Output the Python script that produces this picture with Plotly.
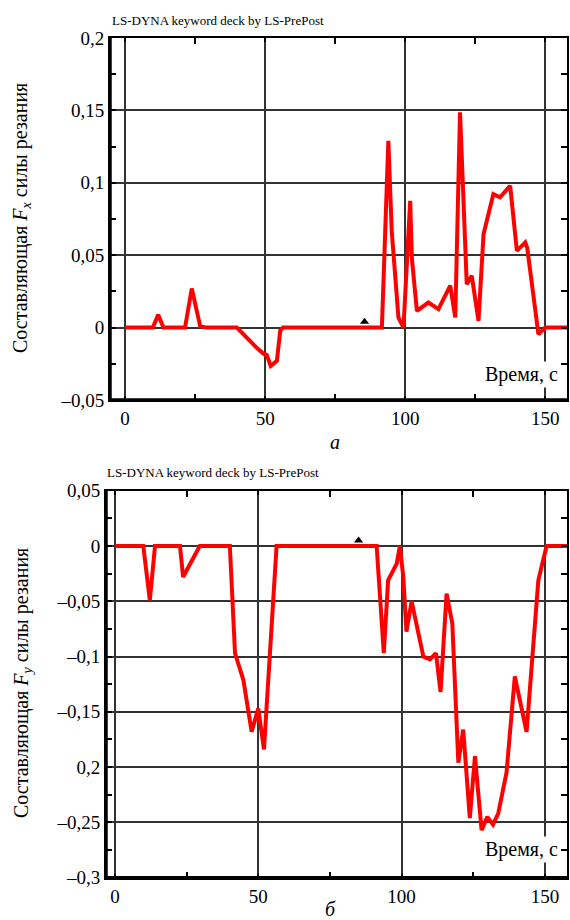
import plotly.graph_objects as go

# ---- data ----
t_fx = [0, 9.9, 11.8, 13.7, 21.4, 23.8, 26.8, 29, 39.9, 43.4, 47, 49.4, 50.6, 52, 54.2, 55.4, 56.4,
        91.7, 92.9, 94, 95.2, 97.6, 99.4, 101.8, 102.4, 104.2, 108.3, 111.9, 116.1, 117.9, 119.6,
        122, 123.8, 126.2, 128, 131.5, 133.9, 137.5, 139.9, 142.9, 143.6, 147.6, 150, 158.5]
fx = [0, 0, 0.0088, 0, 0, 0.027, 0.001, 0, 0, -0.007, -0.014, -0.018, -0.019, -0.0265, -0.023, -0.002, 0,
      0, 0.0715, 0.129, 0.067, 0.007, 0, 0.0876, 0.048, 0.0115, 0.0173, 0.0127, 0.029, 0.007, 0.1487,
      0.030, 0.0357, 0.0046, 0.0646, 0.0922, 0.09, 0.098, 0.053, 0.0588, 0.055, -0.0046, 0, 0]

t_fy = [0, 9.9, 12.2, 14, 22.7, 23.8, 29.6, 40.1, 41.9, 44.8, 47.7, 50, 52, 54.1, 56.4,
        91.3, 93.8, 95.3, 98.3, 99.4, 100.6, 101.7, 103.5, 107.6, 109.9, 112, 113.6, 115.7, 117.7,
        119.8, 121.5, 123.8, 125.6, 127.9, 129.9, 131.9, 133.7, 136.6, 139.5, 143.6, 146.5, 147.7,
        149.4, 150.6, 158.5]
fy = [0, 0, -0.049, 0, 0, -0.028, 0, 0, -0.097, -0.121, -0.168, -0.147, -0.184, -0.097, 0,
      0, -0.097, -0.031, -0.016, 0, -0.028, -0.0775, -0.05, -0.1, -0.1025, -0.097, -0.132, -0.043, -0.07,
      -0.196, -0.166, -0.246, -0.19, -0.257, -0.245, -0.252, -0.242, -0.205, -0.118, -0.168, -0.073, -0.031,
      -0.0127, 0, 0]

mark_fx = (85.5, 0.004)
mark_fy = (85.0, 0.005)

x_tickvals = [0, 50, 100, 150]
x_ticktext = ["0", "50", "100", "150"]
y1_tickvals = [0.2, 0.15, 0.1, 0.05, 0, -0.05]
y1_ticktext = ["0,2", "0,15", "0,1", "0,05", "0", "–0,05"]
y2_tickvals = [0.05, 0, -0.05, -0.1, -0.15, -0.2, -0.25, -0.3]
y2_ticktext = ["0,05", "0", "–0,05", "–0,1", "–0,15", "0,2", "–0,25", "–0,3"]

title_text = "LS-DYNA keyword deck by LS-PrePost"
ytitle1 = "Составляющая <i>F<sub>x</sub></i> силы резания"
ytitle2 = "Составляющая <i>F<sub>y</sub></i> силы резания"
xlabel = "Время, с"

W, H = 570, 920
FONT = "Liberation Serif"
RED = "#ff0000"
GRID = "#333333"

fig = go.Figure()
fig.add_trace(go.Scatter(x=t_fx, y=fx, mode="lines", line=dict(color=RED, width=4),
                         xaxis="x", yaxis="y", showlegend=False))
fig.add_trace(go.Scatter(x=[mark_fx[0]], y=[mark_fx[1]], mode="markers",
                         marker=dict(symbol="triangle-up", size=8, color="black"),
                         xaxis="x", yaxis="y", showlegend=False))
fig.add_trace(go.Scatter(x=t_fy, y=fy, mode="lines", line=dict(color=RED, width=4),
                         xaxis="x2", yaxis="y2", showlegend=False))
fig.add_trace(go.Scatter(x=[mark_fy[0]], y=[mark_fy[1]], mode="markers",
                         marker=dict(symbol="triangle-up", size=8, color="black"),
                         xaxis="x2", yaxis="y2", showlegend=False))

def px(x):
    return x / W

def py(y):
    return 1 - y / H

common_axis = dict(showline=True, linecolor="black", linewidth=2, mirror="ticks",
                   showgrid=True, gridcolor=GRID, gridwidth=1.5, zeroline=False,
                   ticks="inside", ticklen=4, tickwidth=2, tickcolor="black", automargin=False,
                   tickfont=dict(family=FONT, size=19, color="black"), fixedrange=True)

fig.update_layout(
    width=W, height=H, margin=dict(l=0, r=0, t=0, b=0, autoexpand=False),
    paper_bgcolor="white", plot_bgcolor="white",
    xaxis=dict(domain=[px(110), px(567)], range=[-5.4, 157.8], anchor="y",
               tickvals=x_tickvals, ticktext=x_ticktext,
               minor=dict(ticks="inside", ticklen=6, tickwidth=2, tickcolor="black",
                          tickvals=[25, 75, 125], showgrid=False),
               **common_axis),
    yaxis=dict(domain=[py(400), py(38)], range=[-0.05, 0.2], anchor="x",
               tickvals=y1_tickvals, ticktext=y1_ticktext,
               minor=dict(ticks="inside", ticklen=6, tickwidth=2, tickcolor="black",
                          dtick=0.025, tick0=0, showgrid=False),
               **common_axis),
    xaxis2=dict(domain=[px(106), px(567)], range=[-3.1, 157.7], anchor="y2",
                tickvals=x_tickvals, ticktext=x_ticktext,
                minor=dict(ticks="inside", ticklen=6, tickwidth=2, tickcolor="black",
                           tickvals=[25, 75, 125], showgrid=False),
                **common_axis),
    yaxis2=dict(domain=[py(877.7), py(490.7)], range=[-0.3, 0.05], anchor="x2",
                tickvals=y2_tickvals, ticktext=y2_ticktext,
                minor=dict(ticks="inside", ticklen=6, tickwidth=2, tickcolor="black",
                           dtick=0.025, tick0=0, showgrid=False),
                **common_axis),
)

# thicker left/bottom axis lines
shapes = []
for xr, yr in (("x", "y"), ("x2", "y2")):
    shapes.append(dict(type="line", xref=xr + " domain", yref=yr + " domain",
                       x0=0, x1=0, y0=0, y1=1, line=dict(color="black", width=3.5)))
    shapes.append(dict(type="line", xref=xr + " domain", yref=yr + " domain",
                       x0=0, x1=1, y0=0, y1=0, line=dict(color="black", width=3.5)))
fig.update_layout(shapes=shapes)

ann = []
ann.append(dict(text=title_text, x=px(110), y=py(20.5), xref="paper", yref="paper",
                xanchor="left", yanchor="middle", showarrow=False,
                font=dict(family=FONT, size=13, color="black")))
ann.append(dict(text=title_text, x=px(105), y=py(472.5), xref="paper", yref="paper",
                xanchor="left", yanchor="middle", showarrow=False,
                font=dict(family=FONT, size=13, color="black")))
ann.append(dict(text=ytitle1, x=px(22), y=py(218), xref="paper", yref="paper",
                xanchor="center", yanchor="middle", textangle=-90, showarrow=False,
                font=dict(family=FONT, size=20, color="black")))
ann.append(dict(text=ytitle2, x=px(22), y=py(683), xref="paper", yref="paper",
                xanchor="center", yanchor="middle", textangle=-90, showarrow=False,
                font=dict(family=FONT, size=20, color="black")))
ann.append(dict(text=xlabel, x=px(560), y=py(374), xref="paper", yref="paper",
                xanchor="right", yanchor="middle", showarrow=False, bgcolor="white",
                font=dict(family=FONT, size=20, color="black")))
ann.append(dict(text=xlabel, x=px(560), y=py(849), xref="paper", yref="paper",
                xanchor="right", yanchor="middle", showarrow=False, bgcolor="white",
                font=dict(family=FONT, size=20, color="black")))
ann.append(dict(text="<i>а</i>", x=px(335), y=py(442), xref="paper", yref="paper",
                xanchor="center", yanchor="middle", showarrow=False,
                font=dict(family=FONT, size=20, color="black")))
ann.append(dict(text="<i>б</i>", x=px(330), y=py(909), xref="paper", yref="paper",
                xanchor="center", yanchor="middle", showarrow=False,
                font=dict(family=FONT, size=20, color="black")))
fig.update_layout(annotations=ann)

fig.write_html("out.html", config={"displayModeBar": False},
               post_script="document.body.style.margin='0';document.body.style.overflow='hidden';")
